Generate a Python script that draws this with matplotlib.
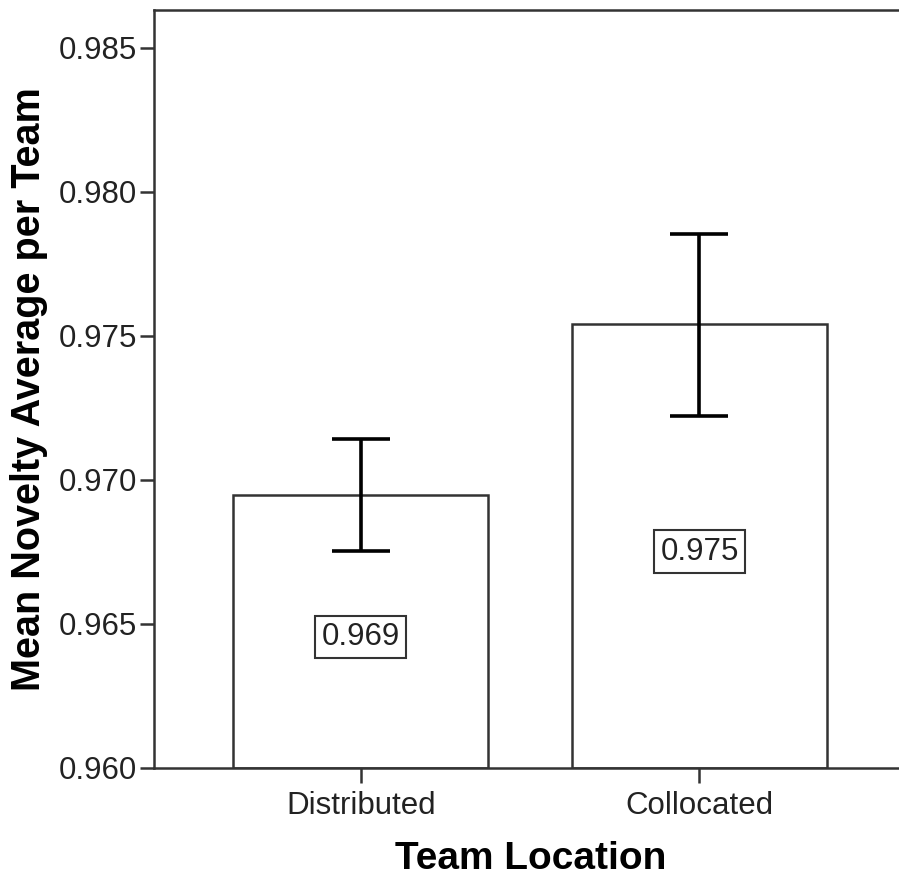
import matplotlib
matplotlib.use("Agg")
import matplotlib.pyplot as plt

# Mean novelty per team location, with error bar bounds
categories = ["Distributed", "Collocated"]
means = [0.96947, 0.97540]
err_low = [0.96753, 0.97222]
err_high = [0.97141, 0.97853]
y_ticks = [0.960, 0.965, 0.970, 0.975, 0.980, 0.985]

plt.rcParams["font.family"] = ["Liberation Sans", "DejaVu Sans"]

fig = plt.figure(figsize=(8.99, 8.84), dpi=100)
ax = fig.add_axes([154 / 899, 116.3 / 884, (908 - 154) / 899, (767.7 - 10) / 884])

base = 0.960
x = list(range(len(categories)))
heights = [m - base for m in means]
ax.bar(x, heights, bottom=base, width=0.753, color="white",
       edgecolor="#333333", linewidth=1.8, zorder=2)

lower = [m - lo for m, lo in zip(means, err_low)]
upper = [hi - m for m, hi in zip(means, err_high)]
ax.errorbar(x, means, yerr=[lower, upper], fmt="none", ecolor="black",
            elinewidth=2.6, capsize=21, capthick=2.6, zorder=3)

for xi, m in zip(x, means):
    ax.annotate(f"{int(m * 1000) / 1000:.3f}", xy=(xi, (base + m) / 2),
                xytext=(0, -4), textcoords="offset points",
                ha="center", va="center", fontsize=22.5, color="#222222",
                bbox=dict(boxstyle="square,pad=0.2", facecolor="white",
                          edgecolor="#333333", linewidth=1.5), zorder=4)

ax.set_xlim(-0.611, 1.616)
ax.set_ylim(0.960, 0.98631)
ax.set_xticks(x)
ax.set_xticklabels(categories)
ax.set_yticks(y_ticks)
ax.set_yticklabels([f"{t:.3f}" for t in y_ticks])

ax.tick_params(axis="y", direction="out", length=10, width=1.8,
               color="#333333", labelsize=22.5, labelcolor="#222222", pad=2)
ax.tick_params(axis="x", direction="out", length=11, width=1.8,
               color="#333333", labelsize=22.5, labelcolor="#222222", pad=6)

for side in ["left", "bottom", "top"]:
    ax.spines[side].set_linewidth(1.8)
    ax.spines[side].set_color("#333333")
ax.spines["right"].set_visible(False)

ax.set_xlabel("Team Location", fontsize=28, fontweight="bold", labelpad=14)
ax.set_ylabel("Mean Novelty Average per Team", fontsize=28.5,
              fontweight="bold", labelpad=10)
ax.yaxis.set_label_coords(-(154 - 48) / 754, 0.5)

fig.savefig("out.png", dpi=100, facecolor="white")
